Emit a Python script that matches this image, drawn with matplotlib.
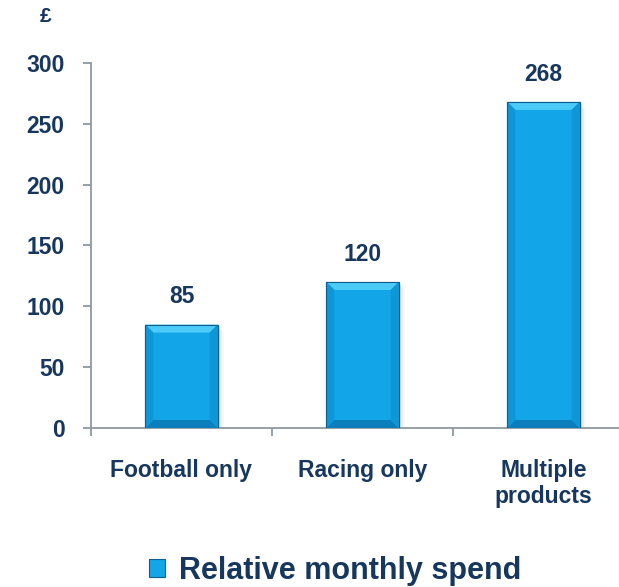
import matplotlib.pyplot as plt
from matplotlib.patches import Polygon, Rectangle
from matplotlib.ticker import FixedLocator

plt.rcParams['font.family'] = ['Liberation Sans', 'DejaVu Sans']

categories = ['Football only', 'Racing only', 'Multiple\nproducts']
spend = [85, 120, 268]
yticks = [0, 50, 100, 150, 200, 250, 300]

navy = '#17375e'
axis_grey = '#8e98a3'
bar_main = '#12a6e8'
bar_top = '#4ccaf8'
bar_side = '#0e96d6'
bar_bottom = '#0b7fbd'
bar_edge = '#0d5f8f'

fig = plt.figure(figsize=(6.19, 5.87), dpi=100)
ax = fig.add_axes([91 / 619, 1 - 428 / 587, 543 / 619, 365 / 587])

x = range(len(categories))
bars = ax.bar(x, spend, width=0.4, color=bar_main, edgecolor=bar_edge,
              linewidth=0.8, zorder=3, label='Relative monthly spend')

ax.set_xlim(-0.5, 2.5)
ax.set_ylim(0, 300)
ax.set_yticks(yticks)
ax.set_xticks(list(x))
ax.set_xticklabels(categories)
ax.xaxis.set_minor_locator(FixedLocator([-0.5, 0.5, 1.5]))

for s in ['top', 'right']:
    ax.spines[s].set_visible(False)
for s in ['left', 'bottom']:
    ax.spines[s].set_color(axis_grey)
    ax.spines[s].set_linewidth(1.3)

ax.tick_params(axis='y', direction='out', length=6, width=1.3, color=axis_grey,
               labelsize=16.5, labelcolor=navy, pad=13)
ax.tick_params(axis='x', which='major', length=0, labelsize=16.5,
               labelcolor=navy, pad=22)
ax.tick_params(axis='x', which='minor', direction='out', length=6, width=1.3,
               color=axis_grey)
for lbl in ax.get_yticklabels():
    lbl.set_fontweight('bold')
for lbl in ax.get_xticklabels():
    lbl.set_fontweight('bold')
    lbl.set_linespacing(1.18)

# bevel and drop shadow, drawn in pixel space around each bar
fig.canvas.draw()
bev = 8
for b in bars:
    (x0, y0), (x1, y1) = ax.transData.transform([(b.get_x(), 0),
                                                  (b.get_x() + b.get_width(), b.get_height())])
    for k, a in enumerate([0.10, 0.07, 0.04]):
        off = 2 + 2 * k
        ax.add_patch(Rectangle((x0 + off, y0 - off), x1 - x0, y1 - y0,
                               transform=None, facecolor='#555555',
                               edgecolor='none', alpha=a, zorder=2))
    shapes = [
        ([(x0, y1), (x1, y1), (x1 - bev, y1 - bev), (x0 + bev, y1 - bev)], bar_top),
        ([(x0, y0), (x1, y0), (x1 - bev, y0 + bev), (x0 + bev, y0 + bev)], bar_bottom),
        ([(x0, y0), (x0 + bev, y0 + bev), (x0 + bev, y1 - bev), (x0, y1)], bar_side),
        ([(x1, y0), (x1 - bev, y0 + bev), (x1 - bev, y1 - bev), (x1, y1)], bar_side),
    ]
    for pts, c in shapes:
        ax.add_patch(Polygon(pts, closed=True, transform=None, facecolor=c,
                             edgecolor='none', zorder=4))
    ax.add_patch(Rectangle((x0, y0), x1 - x0, y1 - y0, transform=None,
                           facecolor='none', edgecolor=bar_edge, linewidth=0.8,
                           zorder=5))

for b, v in zip(bars, spend):
    ax.annotate(str(v), (b.get_x() + b.get_width() / 2, v), xytext=(0, 20),
                textcoords='offset points', ha='center', va='center',
                fontsize=16.5, fontweight='bold', color=navy)

fig.text(46 / 619, 1 - 16 / 587, '£', ha='center', va='center', fontsize=15,
         fontweight='bold', color=navy)

leg = fig.legend(loc='center', bbox_to_anchor=(335 / 619, 1 - 571 / 587),
                 frameon=False, fontsize=22, handlelength=0.55, handleheight=0.55,
                 handletextpad=0.45, borderpad=0)
for t in leg.get_texts():
    t.set_fontweight('bold')
    t.set_color(navy)

fig.savefig('out.png', dpi=100)
